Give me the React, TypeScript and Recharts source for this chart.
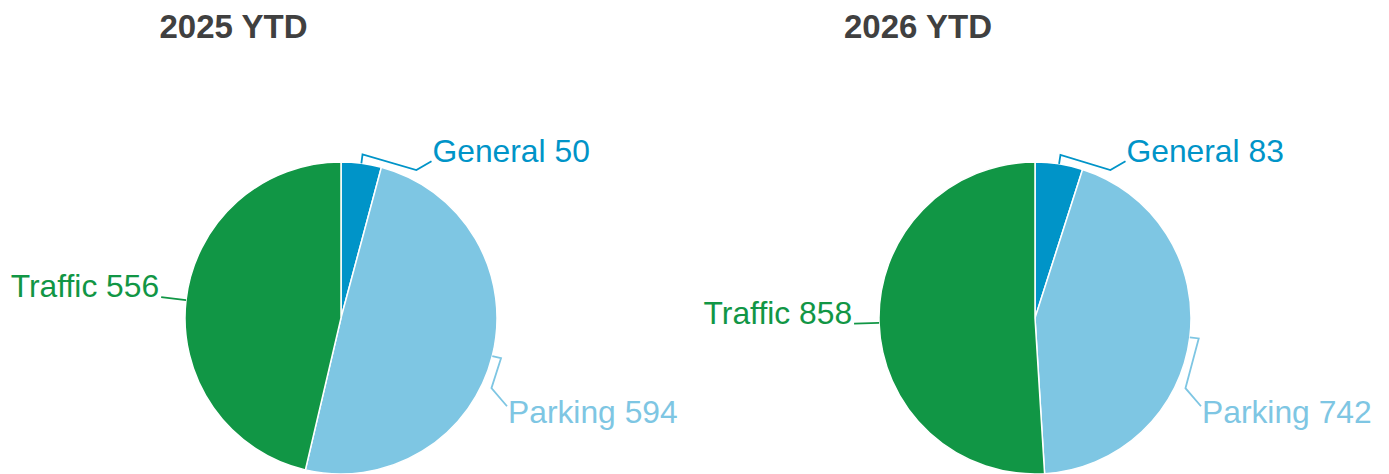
import React from 'react';
import { PieChart, Pie, Cell } from 'recharts';

const categories = ['General', 'Parking', 'Traffic'];
const values2025 = [50, 594, 556];
const values2026 = [83, 742, 858];
const titles = ['2025 YTD', '2026 YTD'];

const colors = ['#0094c8', '#7ec6e3', '#119645'];
// label placement angle (clockwise from top); null => at slice mid-angle
const labelAngles: (number | null)[] = [30, 118, null];

const W = 1389;
const H = 474;
const R = 156;

const data2025 = categories.map((name, i) => ({ name, value: values2025[i] }));
const data2026 = categories.map((name, i) => ({ name, value: values2026[i] }));

const polar = (cx: number, cy: number, r: number, cwDeg: number) => {
  const a = (cwDeg * Math.PI) / 180;
  return { x: cx + r * Math.sin(a), y: cy - r * Math.cos(a) };
};

const renderLabel = (props: any) => {
  const { cx, cy, midAngle, outerRadius, index, name, value } = props;
  let mid = 90 - midAngle;
  mid = ((mid % 360) + 360) % 360;
  const color = colors[index];
  const la = labelAngles[index];
  const E = polar(cx, cy, outerRadius, mid);
  let d: string;
  let L: { x: number; y: number };
  let tx: number;
  let ty: number;
  let anchor: 'start' | 'end';
  if (la === null) {
    L = polar(cx, cy, outerRadius + 25, mid);
    d = `M${L.x},${L.y} L${E.x},${E.y}`;
    tx = L.x - 2;
    ty = L.y;
    anchor = L.x < cx ? 'end' : 'start';
  } else {
    const P1 = polar(cx, cy, outerRadius + 9, mid);
    const P2 = polar(cx, cy, outerRadius + 10, la - 3);
    L = polar(cx, cy, outerRadius + (la > 90 ? 32 : 25), la);
    d = `M${E.x},${E.y} L${P1.x},${P1.y} L${P2.x},${P2.y} L${L.x},${L.y}`;
    tx = L.x + 1;
    ty = L.y < cy ? L.y + 1 : L.y + 17;
    anchor = 'start';
  }
  return (
    <g key={`lbl-${index}`}>
      <path d={d} stroke={color} strokeWidth={1.8} fill="none" />
      <text
        x={tx}
        y={ty}
        textAnchor={anchor}
        fill={color}
        fontSize={31.8}
        fontFamily="'Liberation Sans', Arial, sans-serif"
      >
        {`${name} ${value}`}
      </text>
    </g>
  );
};

export default function App() {
  return (
    <div style={{ position: 'absolute', left: 0, top: 0, width: W, height: H, background: '#fff' }}>
      <PieChart width={W} height={H} margin={{ top: 0, right: 0, bottom: 0, left: 0 }}>
        <Pie
          data={data2025}
          dataKey="value"
          nameKey="name"
          cx={341}
          cy={318}
          outerRadius={R}
          startAngle={90}
          endAngle={-270}
          stroke="#ffffff"
          strokeWidth={1.5}
          label={renderLabel}
          labelLine={false}
          isAnimationActive={false}
        >
          {data2025.map((_, i) => (
            <Cell key={`a-${i}`} fill={colors[i]} />
          ))}
        </Pie>
        <Pie
          data={data2026}
          dataKey="value"
          nameKey="name"
          cx={1035}
          cy={318}
          outerRadius={R}
          startAngle={90}
          endAngle={-270}
          stroke="#ffffff"
          strokeWidth={1.5}
          label={renderLabel}
          labelLine={false}
          isAnimationActive={false}
        >
          {data2026.map((_, i) => (
            <Cell key={`b-${i}`} fill={colors[i]} />
          ))}
        </Pie>
      </PieChart>
      <svg
        width={W}
        height={60}
        style={{ position: 'absolute', left: 0, top: 0, pointerEvents: 'none' }}
      >
        <text
          x={233.5}
          y={38}
          textAnchor="middle"
          fontSize={33}
          fontWeight="bold"
          fill="#404040"
          fontFamily="'Liberation Sans', Arial, sans-serif"
        >
          {titles[0]}
        </text>
        <text
          x={918}
          y={38}
          textAnchor="middle"
          fontSize={33}
          fontWeight="bold"
          fill="#404040"
          fontFamily="'Liberation Sans', Arial, sans-serif"
        >
          {titles[1]}
        </text>
      </svg>
    </div>
  );
}
